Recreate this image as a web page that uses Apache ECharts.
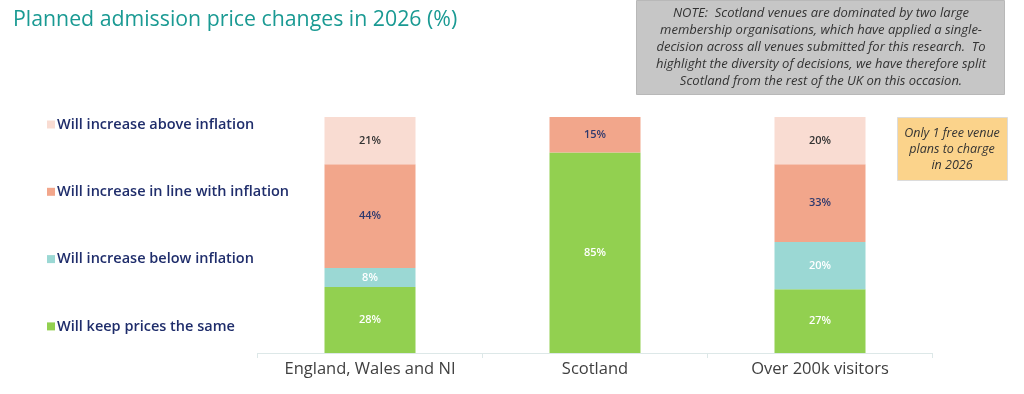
<!DOCTYPE html>
<html>
<head>
<meta charset="utf-8">
<script src="https://cdn.jsdelivr.net/npm/echarts@6/dist/echarts.min.js"></script>
<style>html,body{margin:0;padding:0;background:#fff}#c{width:1024px;height:394px}</style>
</head>
<body>
<div id="c"></div>
<script>
const categories = ['England, Wales and NI', 'Scotland', 'Over 200k visitors'];
const seriesNames = ['Will increase above inflation', 'Will increase in line with inflation', 'Will increase below inflation', 'Will keep prices the same'];
const keepSame = [28, 85, 27];
const belowInflation = [8, null, 20];
const inLineInflation = [44, 15, 33];
const aboveInflation = [21, null, 20];
const titleText = 'Planned admission price changes in 2026 (%)';
const noteText = 'NOTE:  Scotland venues are dominated by two large\nmembership organisations, which have applied a single-\ndecision across all venues submitted for this research.  To\nhighlight the diversity of decisions, we have therefore split\nScotland from the rest of the UK on this occasion.';
const freeText = 'Only 1 free venue\nplans to charge\nin 2026';

const colors = {above: '#f9dcd2', inline: '#f2a68b', below: '#9bd8d4', keep: '#92d050'};
const FONT = '"Open Sans", "Noto Sans", sans-serif';

function mk(name, data, color, labelColor) {
  return {
    name, type: 'bar', stack: 'total', data, barWidth: 91,
    itemStyle: {color},
    label: {show: true, position: 'inside', color: labelColor, fontSize: 11, fontWeight: 600, fontFamily: FONT,
      formatter: p => p.value == null ? '' : p.value + '%'}
  };
}

const chart = echarts.init(document.getElementById('c'), null, {renderer: 'canvas'});
chart.setOption({
  animation: false,
  title: {text: titleText, left: 8, top: 4, textStyle: {color: '#1a9a93', fontSize: 21.3, fontWeight: 'normal', fontFamily: FONT}},
  legend: {
    orient: 'vertical', left: 42, top: 112, itemGap: 52.3, icon: 'rect', itemWidth: 8, itemHeight: 8,
    data: seriesNames,
    textStyle: {color: '#1f2d6b', fontSize: 14.5, fontWeight: 600, fontFamily: FONT, padding: [0, 0, 0, -3]}
  },
  grid: {left: 257.5, right: 91.5, top: 117, bottom: 41},
  xAxis: {
    type: 'category', data: categories,
    axisLine: {lineStyle: {color: '#dde8e8'}},
    axisTick: {show: true, lineStyle: {color: '#dde8e8'}},
    axisLabel: {color: '#404040', fontSize: 16.5, margin: 8, interval: 0, fontFamily: FONT}
  },
  yAxis: {type: 'value', min: 0, max: 100, show: false, splitLine: {show: false}},
  series: [
    mk(seriesNames[3], keepSame, colors.keep, '#ffffff'),
    mk(seriesNames[2], belowInflation, colors.below, '#ffffff'),
    mk(seriesNames[1], inLineInflation, colors.inline, '#2e3a6e'),
    mk(seriesNames[0], aboveInflation, colors.above, '#333333')
  ],
  graphic: [
    {type: 'rect', shape: {x: 636.5, y: 0.5, width: 368, height: 94}, style: {fill: '#c6c6c6', stroke: '#b8b8b8', lineWidth: 1}},
    {type: 'text', x: 821, y: 47, style: {text: noteText, fill: '#333333', font: 'italic 13px ' + FONT, align: 'center', verticalAlign: 'middle', lineHeight: 17}},
    {type: 'rect', shape: {x: 897.5, y: 117.5, width: 110, height: 63}, style: {fill: '#fbd38b', stroke: '#dcdcdc', lineWidth: 1}},
    {type: 'text', x: 952, y: 149, style: {text: freeText, fill: '#333333', font: 'italic 12.5px ' + FONT, align: 'center', verticalAlign: 'middle', lineHeight: 16}}
  ]
});
</script>
</body>
</html>
